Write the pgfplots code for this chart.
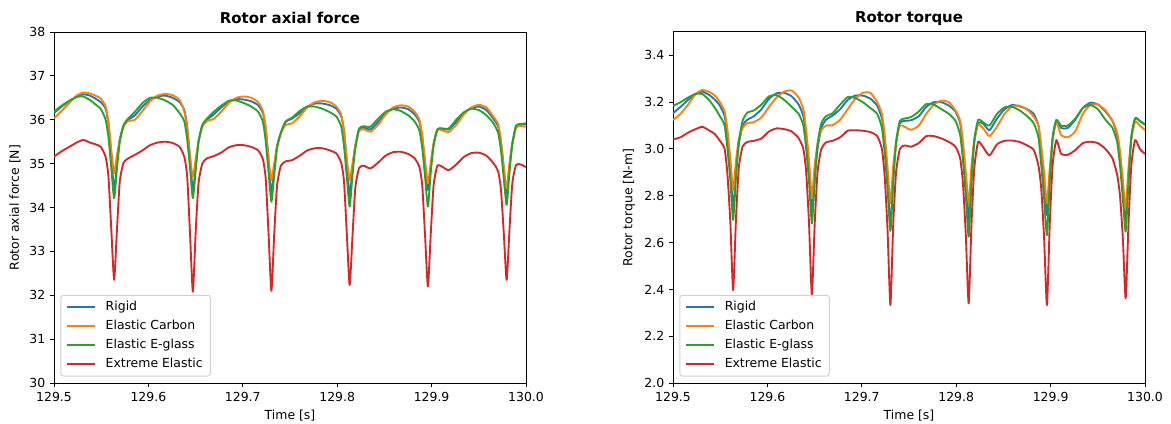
\documentclass[border=0pt]{standalone}
\usepackage{fontspec}
\setmainfont{DejaVu Sans}
\usepackage{pgfplots}
\usepackage{pgfplotstable}
\pgfplotsset{compat=1.18}
\definecolor{cA}{HTML}{1F77B4}
\definecolor{cB}{HTML}{FF7F0E}
\definecolor{cC}{HTML}{2CA02C}
\definecolor{cD}{HTML}{D62728}

\pgfplotstableread{
t rigid carbon eglass extreme
129.5000 36.15 36.03 36.18 35.16
129.5080 36.30 36.20 36.32 35.28
129.5160 36.42 36.38 36.43 35.38
129.5240 36.52 36.55 36.52 35.48
129.5310 36.58 36.62 36.53 35.54
129.5380 36.55 36.60 36.45 35.48
129.5440 36.48 36.55 36.35 35.44
129.5497 36.40 36.48 36.24 35.38
129.5547 36.25 36.30 36.00 35.15
129.5577 35.90 35.95 35.60 34.70
129.5607 35.20 35.30 34.90 33.50
129.5637 34.40 34.78 34.21 32.35
129.5667 35.00 35.20 34.90 33.50
129.5697 35.55 35.55 35.50 34.60
129.5737 35.85 35.85 35.88 35.02
129.5787 36.00 35.97 36.03 35.12
129.5857 36.10 36.00 36.18 35.20
129.5937 36.30 36.20 36.38 35.30
129.6017 36.45 36.42 36.50 35.42
129.6097 36.53 36.55 36.50 35.48
129.6177 36.55 36.59 36.44 35.50
129.6257 36.50 36.56 36.34 35.47
129.6331 36.40 36.45 36.15 35.38
129.6381 36.22 36.18 35.96 35.15
129.6411 35.85 35.80 35.55 34.70
129.6441 35.15 35.15 34.90 33.40
129.6471 34.36 34.70 34.21 32.08
129.6501 34.95 35.10 34.85 33.45
129.6531 35.50 35.50 35.50 34.55
129.6571 35.85 35.85 35.88 35.00
129.6621 36.00 35.97 36.03 35.12
129.6691 36.12 36.02 36.18 35.17
129.6771 36.28 36.18 36.32 35.25
129.6851 36.42 36.38 36.43 35.37
129.6931 36.47 36.50 36.44 35.42
129.7011 36.46 36.53 36.38 35.42
129.7091 36.42 36.50 36.30 35.38
129.7163 36.33 36.40 36.18 35.30
129.7213 36.15 36.20 35.95 35.10
129.7243 35.80 35.80 35.50 34.65
129.7273 35.10 35.10 34.80 33.40
129.7303 34.30 34.63 34.13 32.10
129.7333 34.90 35.00 34.75 33.40
129.7363 35.40 35.40 35.35 34.50
129.7403 35.70 35.70 35.70 34.95
129.7453 35.95 35.88 35.96 35.05
129.7523 36.03 35.92 36.05 35.08
129.7603 36.15 36.08 36.20 35.18
129.7683 36.30 36.28 36.30 35.30
129.7763 36.37 36.40 36.30 35.35
129.7843 36.37 36.43 36.25 35.35
129.7923 36.33 36.40 36.17 35.30
129.7992 36.25 36.30 36.07 35.23
129.8042 36.08 36.12 35.85 35.02
129.8072 35.75 35.75 35.40 34.60
129.8102 35.05 35.10 34.70 33.40
129.8132 34.25 34.63 34.02 32.23
129.8162 34.90 35.00 34.75 33.35
129.8192 35.40 35.40 35.35 34.45
129.8232 35.78 35.75 35.80 34.90
129.8282 35.82 35.78 35.85 34.95
129.8352 35.78 35.73 35.84 34.89
129.8432 35.95 35.88 36.02 35.02
129.8512 36.15 36.12 36.18 35.18
129.8592 36.25 36.28 36.24 35.26
129.8672 36.28 36.33 36.20 35.27
129.8752 36.24 36.30 36.10 35.22
129.8821 36.12 36.18 35.96 35.12
129.8871 35.95 36.00 35.75 34.92
129.8901 35.60 35.65 35.35 34.50
129.8931 35.00 35.05 34.70 33.35
129.8961 34.40 34.55 34.02 32.20
129.8991 34.95 35.00 34.80 33.40
129.9021 35.45 35.45 35.40 34.50
129.9061 35.78 35.77 35.78 34.95
129.9111 35.80 35.76 35.80 34.93
129.9181 35.78 35.72 35.80 34.85
129.9261 35.95 35.88 36.00 34.98
129.9341 36.15 36.12 36.17 35.15
129.9421 36.27 36.28 36.25 35.24
129.9501 36.30 36.34 36.22 35.25
129.9581 36.22 36.28 36.10 35.18
129.9655 36.02 36.07 35.92 35.01
129.9705 35.85 35.90 35.70 34.82
129.9735 35.50 35.50 35.30 34.40
129.9765 34.90 34.90 34.65 33.40
129.9795 34.30 34.44 34.06 32.35
129.9825 34.95 35.00 34.80 33.50
129.9855 35.45 35.45 35.45 34.55
129.9895 35.85 35.82 35.87 34.97
129.9945 35.90 35.86 35.90 34.98
130.0000 35.90 35.84 35.92 34.92
}\axial

\pgfplotstableread{
t rigid carbon eglass extreme
129.5000 3.153 3.124 3.184 3.041
129.5080 3.180 3.150 3.200 3.050
129.5160 3.210 3.190 3.220 3.070
129.5240 3.235 3.235 3.236 3.085
129.5310 3.245 3.252 3.235 3.095
129.5380 3.232 3.245 3.210 3.080
129.5440 3.212 3.230 3.178 3.065
129.5497 3.185 3.200 3.140 3.035
129.5547 3.140 3.160 3.100 3.000
129.5577 3.050 3.080 3.000 2.890
129.5607 2.920 2.960 2.870 2.690
129.5637 2.747 2.825 2.697 2.397
129.5667 2.900 2.950 2.880 2.700
129.5697 3.020 3.040 3.030 2.920
129.5737 3.100 3.090 3.120 3.010
129.5787 3.125 3.110 3.155 3.030
129.5857 3.140 3.115 3.165 3.035
129.5937 3.170 3.135 3.190 3.045
129.6017 3.215 3.180 3.225 3.075
129.6097 3.238 3.220 3.230 3.088
129.6177 3.240 3.245 3.210 3.085
129.6257 3.225 3.250 3.180 3.075
129.6331 3.190 3.220 3.150 3.046
129.6381 3.140 3.170 3.100 3.000
129.6411 3.050 3.080 3.000 2.900
129.6441 2.920 2.950 2.860 2.680
129.6471 2.725 2.796 2.682 2.376
129.6501 2.880 2.930 2.860 2.680
129.6531 3.000 3.020 3.020 2.900
129.6571 3.090 3.080 3.110 3.000
129.6621 3.125 3.100 3.140 3.028
129.6691 3.143 3.102 3.153 3.035
129.6771 3.170 3.125 3.190 3.050
129.6851 3.210 3.170 3.222 3.078
129.6931 3.228 3.215 3.218 3.080
129.7011 3.228 3.240 3.200 3.078
129.7091 3.215 3.240 3.175 3.072
129.7163 3.185 3.200 3.150 3.055
129.7213 3.130 3.150 3.090 3.000
129.7243 3.030 3.060 2.980 2.880
129.7273 2.880 2.920 2.830 2.650
129.7303 2.668 2.768 2.650 2.333
129.7333 2.880 2.930 2.860 2.680
129.7363 3.020 3.030 3.030 2.900
129.7403 3.110 3.100 3.120 3.000
129.7453 3.120 3.095 3.130 3.015
129.7523 3.123 3.082 3.137 3.010
129.7603 3.140 3.100 3.160 3.025
129.7683 3.180 3.150 3.192 3.055
129.7763 3.200 3.190 3.190 3.055
129.7843 3.200 3.207 3.170 3.045
129.7923 3.185 3.200 3.150 3.030
129.7992 3.160 3.165 3.120 3.010
129.8042 3.110 3.120 3.060 2.960
129.8072 3.010 3.030 2.950 2.850
129.8102 2.870 2.900 2.800 2.630
129.8132 2.697 2.768 2.625 2.340
129.8162 2.880 2.930 2.860 2.680
129.8192 3.030 3.040 3.040 2.920
129.8232 3.110 3.105 3.124 3.030
129.8282 3.110 3.090 3.115 3.010
129.8352 3.080 3.055 3.100 2.972
129.8432 3.130 3.095 3.150 3.020
129.8512 3.170 3.150 3.178 3.035
129.8592 3.188 3.182 3.180 3.036
129.8672 3.182 3.185 3.165 3.030
129.8752 3.170 3.168 3.140 3.015
129.8821 3.150 3.138 3.110 2.996
129.8871 3.100 3.100 3.050 2.930
129.8901 3.000 3.010 2.930 2.830
129.8931 2.870 2.900 2.790 2.620
129.8961 2.718 2.768 2.632 2.333
129.8991 2.880 2.920 2.860 2.680
129.9021 3.040 3.040 3.050 2.930
129.9061 3.124 3.115 3.124 3.038
129.9111 3.090 3.060 3.100 2.980
129.9181 3.090 3.050 3.100 2.975
129.9261 3.125 3.075 3.130 2.995
129.9341 3.175 3.150 3.175 3.025
129.9421 3.198 3.188 3.188 3.031
129.9501 3.190 3.190 3.170 3.025
129.9581 3.160 3.165 3.125 3.000
129.9655 3.120 3.120 3.090 2.960
129.9705 3.060 3.070 3.030 2.890
129.9735 2.970 2.990 2.930 2.800
129.9765 2.840 2.870 2.790 2.620
129.9795 2.690 2.739 2.647 2.362
129.9825 2.880 2.920 2.860 2.680
129.9855 3.050 3.040 3.050 2.930
129.9895 3.130 3.117 3.132 3.038
129.9945 3.120 3.100 3.120 3.000
130.0000 3.103 3.081 3.105 2.979
}\torque

\pgfplotsset{
  panel/.style={
    scale only axis, width=377.6bp, height=280.8bp,
    xmin=129.5, xmax=130,
    xtick={129.5,129.6,129.7,129.8,129.9,130.0},
    xticklabels={129.5,129.6,129.7,129.8,129.9,130.0},
    xtick pos=bottom, ytick pos=left,
    tick align=outside, major tick length=3.5bp,
    tick style={black, line width=0.8bp},
    axis line style={line width=0.8bp},
    /pgf/number format/assume math mode=true,
    ticklabel style={font=\fontsize{10}{12}\selectfont},
    label style={font=\fontsize{10}{12}\selectfont},
    every axis x label/.style={at={(axis description cs:0.5,-0.094)}, anchor=center},
    every axis title/.style={font=\bfseries\fontsize{12}{14}\selectfont, at={(axis description cs:0.5,1.039)}, anchor=center},
    xlabel={Time [s]},
    legend cell align=left,
    legend style={anchor=south west,
      at={(axis description cs:0.0135,0.0185)},
      draw=black!18, rounded corners=2bp, fill=white, line width=0.8bp,
      font=\fontsize{10}{12}\selectfont,
      inner xsep=4.4bp, inner ysep=2.5bp, row sep=1.7bp, column sep=6bp,
      nodes={inner sep=1.6bp, text height=8bp, text depth=2.4bp}},
    legend image code/.code={\draw[#1, line width=1.5bp] (0bp,0bp) -- (22.4bp,0bp);},
  },
  ln/.style={line width=1.5bp, line join=round, smooth, tension=0.35},
}

\begin{document}
\begin{tikzpicture}
\begin{axis}[panel, at={(0,0)}, anchor=south west,
  ymin=30, ymax=38, ytick={30,31,32,33,34,35,36,37,38},
  yticklabels={30,31,32,33,34,35,36,37,38},
  every axis y label/.style={at={(axis description cs:-0.0826,0.5)}, rotate=90, anchor=center},
  ylabel={Rotor axial force [N]}, title={Rotor axial force}]
\addplot[cA, ln] table[x=t, y=rigid] {\axial};
\addlegendentry{Rigid}
\addplot[cB, ln] table[x=t, y=carbon] {\axial};
\addlegendentry{Elastic Carbon}
\addplot[cC, ln] table[x=t, y=eglass] {\axial};
\addlegendentry{Elastic E-glass}
\addplot[cD, ln] table[x=t, y=extreme] {\axial};
\addlegendentry{Extreme Elastic}
\end{axis}
\begin{axis}[panel, at={(495.2bp,0)}, anchor=south west,
  ymin=2.0, ymax=3.5, ytick={2.0,2.2,2.4,2.6,2.8,3.0,3.2,3.4},
  yticklabels={2.0,2.2,2.4,2.6,2.8,3.0,3.2,3.4},
  every axis y label/.style={at={(axis description cs:-0.0932,0.5)}, rotate=90, anchor=center},
  ylabel={Rotor torque [N-m]}, title={Rotor torque}]
\addplot[cA, ln] table[x=t, y=rigid] {\torque};
\addlegendentry{Rigid}
\addplot[cB, ln] table[x=t, y=carbon] {\torque};
\addlegendentry{Elastic Carbon}
\addplot[cC, ln] table[x=t, y=eglass] {\torque};
\addlegendentry{Elastic E-glass}
\addplot[cD, ln] table[x=t, y=extreme] {\torque};
\addlegendentry{Extreme Elastic}
\end{axis}
\pgfresetboundingbox
\path[use as bounding box] (-43.2bp,-32.8bp) rectangle (893.6bp,306.4bp);
\end{tikzpicture}
\end{document}
